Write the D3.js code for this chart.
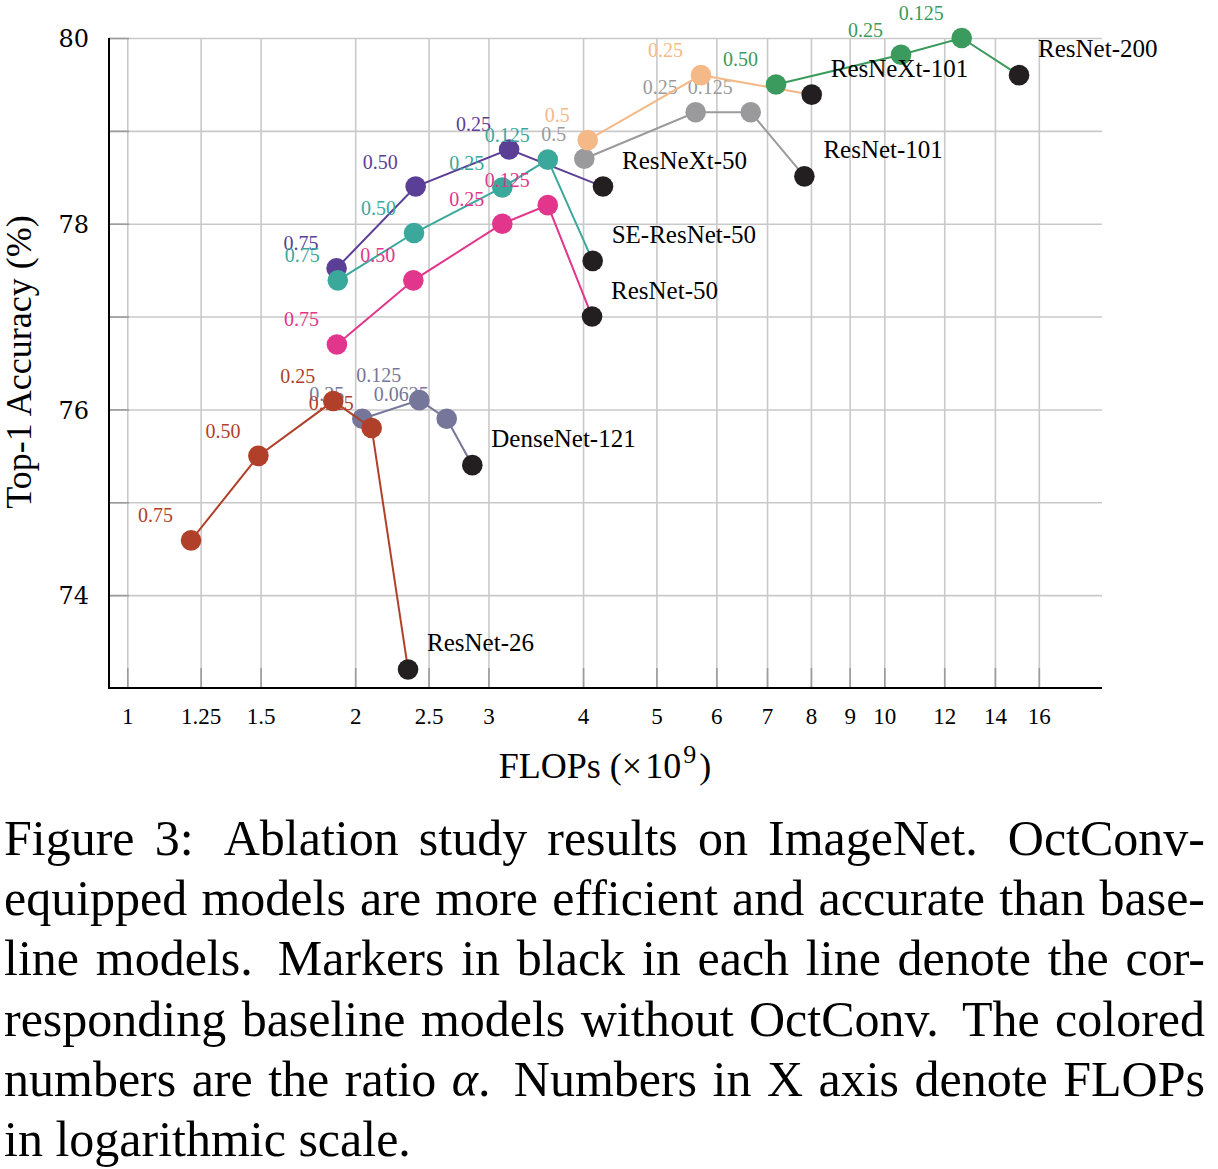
<!DOCTYPE html>
<html><head><meta charset="utf-8">
<script src="https://cdn.jsdelivr.net/npm/d3@7"></script>
<style>body{margin:0;background:#fff} svg{display:block}</style>
</head><body>
<svg id="c" width="1218" height="1169"></svg>
<script>
// ---------- data ----------
const xTickValues = [1, 1.25, 1.5, 2, 2.5, 3, 4, 5, 6, 7, 8, 9, 10, 12, 14, 16];
const xTickLabels = ["1", "1.25", "1.5", "2", "2.5", "3", "4", "5", "6", "7", "8", "9", "10", "12", "14", "16"];
const yGridValues = [74, 75, 76, 77, 78, 79, 80];
const yTickValues = [74, 76, 78, 80];
const yTickLabels = ["74", "76", "78", "80"];

const modelNames = ["ResNet-101", "ResNeXt-101", "ResNet-200", "ResNeXt-50", "SE-ResNet-50", "ResNet-50", "DenseNet-121", "ResNet-26"];

const flopsResNet101 = [4.015, 5.634, 6.661, 7.842];
const accResNet101   = [78.70, 79.20, 79.20, 78.51];
const alphaResNet101 = ["0.5", "0.25", "0.125", null];

const flopsResNeXt101 = [4.057, 5.726, 8.019];
const accResNeXt101   = [78.90, 79.60, 79.39];
const alphaResNeXt101 = ["0.5", "0.25", null];

const flopsResNet200 = [7.194, 10.521, 12.655, 15.066];
const accResNet200   = [79.50, 79.82, 80.00, 79.60];
const alphaResNet200 = ["0.50", "0.25", "0.125", null];

const flopsResNeXt50 = [1.890, 2.404, 3.194, 4.250];
const accResNeXt50   = [77.52, 78.40, 78.80, 78.40];
const alphaResNeXt50 = ["0.75", "0.50", "0.25", null];

const flopsSEResNet50 = [1.897, 2.392, 3.129, 3.593, 4.119];
const accSEResNet50   = [77.39, 77.90, 78.39, 78.69, 77.60];
const alphaSEResNet50 = ["0.75", "0.50", "0.25", "0.125", null];

const flopsResNet50 = [1.892, 2.387, 3.129, 3.593, 4.111];
const accResNet50   = [76.70, 77.39, 78.00, 78.20, 77.00];
const alphaResNet50 = ["0.75", "0.50", "0.25", "0.125", null];

const flopsDenseNet121 = [2.044, 2.431, 2.642, 2.856];
const accDenseNet121   = [75.90, 76.10, 75.90, 75.40];
const alphaDenseNet121 = ["0.25", "0.125", "0.0625", null];

const flopsResNet26 = [1.214, 1.490, 1.871, 2.103, 2.349];
const accResNet26   = [74.59, 75.50, 76.09, 75.80, 73.20];
const alphaResNet26 = ["0.75", "0.50", "0.25", "0.125", null];

const xAxisTitle = "FLOPs";
const yAxisTitle = "Top-1 Accuracy (%)";
const captionLines = [
  ["Figure", "3:", "Ablation", "study", "results", "on", "ImageNet.", "OctConv-"],
  ["equipped", "models", "are", "more", "efficient", "and", "accurate", "than", "base-"],
  ["line", "models.", "Markers", "in", "black", "in", "each", "line", "denote", "the", "cor-"],
  ["responding", "baseline", "models", "without", "OctConv.", "The", "colored"],
  ["numbers", "are", "the", "ratio", "α.", "Numbers", "in", "X", "axis", "denote", "FLOPs"],
  ["in", "logarithmic", "scale."]
];

// ---------- styles ----------
const seriesColors = ["#9a9a9d", "#f4b987", "#3b9a5d", "#5b3f96", "#3ba89c", "#e1368b", "#76769a", "#b0402a"];
const baselineColor = "#231f20";
const SERIF = "'Liberation Serif','Times New Roman',serif";

const series = [
  [flopsResNet101, accResNet101, alphaResNet101],
  [flopsResNeXt101, accResNeXt101, alphaResNeXt101],
  [flopsResNet200, accResNet200, alphaResNet200],
  [flopsResNeXt50, accResNeXt50, alphaResNeXt50],
  [flopsSEResNet50, accSEResNet50, alphaSEResNet50],
  [flopsResNet50, accResNet50, alphaResNet50],
  [flopsDenseNet121, accDenseNet121, alphaDenseNet121],
  [flopsResNet26, accResNet26, alphaResNet26]
].map((s, i) => ({
  name: modelNames[i], color: seriesColors[i],
  pts: s[0].map((f, j) => ({ f, a: s[1][j], alpha: s[2][j], base: j === s[0].length - 1 }))
}));

// ---------- layout ----------
const L = 109, R = 1102, T = 38, B = 688;
const x = d3.scaleLog().domain([Math.pow(10, (L - 127.3) / 757), Math.pow(10, (R - 127.3) / 757)]).range([L, R]);
const y = d3.scaleLinear().domain([73, 80]).range([B, T]);

const svg = d3.select("#c");

// grid
const gx = svg.append("g").attr("transform", `translate(0,${B})`)
  .call(d3.axisBottom(x).tickValues(xTickValues).tickSize(-(B - T)).tickFormat(""));
gx.select(".domain").remove();
gx.selectAll("line").attr("stroke", "#c9c9c9").attr("stroke-width", 1.6);

const gy = svg.append("g").attr("transform", `translate(${L},0)`)
  .call(d3.axisLeft(y).tickValues(yGridValues).tickSize(-(R - L)).tickFormat(""));
gy.select(".domain").remove();
gy.selectAll("line").attr("stroke", "#c9c9c9").attr("stroke-width", 1.6);

// inward ticks
const tx = svg.append("g").attr("transform", `translate(0,${B})`)
  .call(d3.axisBottom(x).tickValues(xTickValues).tickSize(-20).tickFormat(""));
tx.select(".domain").remove();
tx.selectAll("line").attr("stroke", "#9c9c9c").attr("stroke-width", 1.6);
const ty = svg.append("g").attr("transform", `translate(${L},0)`)
  .call(d3.axisLeft(y).tickValues(yGridValues).tickSize(-20).tickFormat(""));
ty.select(".domain").remove();
ty.selectAll("line").attr("stroke", "#9c9c9c").attr("stroke-width", 1.6);

// tick labels
const lx = svg.append("g").attr("transform", `translate(0,${B})`)
  .call(d3.axisBottom(x).tickValues(xTickValues).tickSize(0).tickFormat((d, i) => xTickLabels[i]));
lx.select(".domain").remove();
lx.selectAll("text").attr("y", 36).attr("dy", null)
  .attr("font-family", SERIF).attr("font-size", 23).attr("fill", "#000");

const ly = svg.append("g").attr("transform", `translate(${L},0)`)
  .call(d3.axisLeft(y).tickValues(yTickValues).tickSize(0).tickFormat((d, i) => yTickLabels[i]));
ly.select(".domain").remove();
ly.selectAll("text").attr("x", -20).attr("dy", "0.36em")
  .attr("font-family", "'DejaVu Serif',serif").attr("font-size", 24).attr("fill", "#000");

// axis lines
svg.append("line").attr("x1", L).attr("x2", L).attr("y1", T).attr("y2", B + 1).attr("stroke", "#000").attr("stroke-width", 2);
svg.append("line").attr("x1", L - 1).attr("x2", R).attr("y1", B).attr("y2", B).attr("stroke", "#000").attr("stroke-width", 2);

// axis titles
const xt = svg.append("text").attr("x", 605).attr("y", 778).attr("text-anchor", "middle")
  .attr("font-family", SERIF).attr("font-size", 36).attr("fill", "#000");
xt.append("tspan").text(xAxisTitle + " (×\u200A10");
xt.append("tspan").attr("font-size", 26).attr("dx", 2).attr("dy", -15).text("9");
xt.append("tspan").attr("dx", 3).attr("dy", 15).text(")");

svg.append("text").attr("transform", "translate(31,362) rotate(-90)").attr("text-anchor", "middle")
  .attr("font-family", SERIF).attr("font-size", 36).attr("fill", "#000").text(yAxisTitle);

// series
const line = d3.line().x(d => x(d.f)).y(d => y(d.a));
const plot = svg.append("g");
series.forEach(s => {
  const g = plot.append("g");
  g.append("path").datum(s.pts).attr("d", line).attr("fill", "none").attr("stroke", s.color).attr("stroke-width", 2);
  g.selectAll("text.alpha").data(s.pts.filter(p => p.alpha)).join("text").attr("class", "alpha")
    .attr("x", d => x(d.f) - 18).attr("y", d => y(d.a) - 18).attr("text-anchor", "end")
    .attr("font-family", SERIF).attr("font-size", 20).attr("fill", s.color).text(d => d.alpha);
  g.selectAll("circle").data(s.pts).join("circle")
    .attr("cx", d => x(d.f)).attr("cy", d => y(d.a)).attr("r", 10.3)
    .attr("fill", d => d.base ? baselineColor : s.color);
});
// model name labels
series.forEach(s => {
  const b = s.pts[s.pts.length - 1];
  svg.append("text").attr("x", x(b.f) + 19).attr("y", y(b.a) - 18)
    .attr("font-family", SERIF).attr("font-size", 25).attr("fill", "#000").text(s.name);
});

// caption (justified)
const capL = 4, capR = 1205, capTop = 855, capStep = 60.2;
captionLines.forEach((words, li) => {
  const yy = capTop + li * capStep;
  const g = svg.append("g");
  const nodes = words.map(w => {
    const t = g.append("text").attr("y", yy).attr("font-family", SERIF).attr("font-size", 50).attr("fill", "#000");
    if (w.includes("α")) {
      t.append("tspan").attr("font-style", "italic").text("α");
      t.append("tspan").text(w.replace("α", ""));
    } else t.text(w);
    return t;
  });
  const widths = nodes.map(n => n.node().getComputedTextLength());
  const last = li === captionLines.length - 1;
  const weights = words.slice(0, -1).map(w => /[.:]$/.test(w) ? 1.5 : 1);
  const natural = 12.5;
  let unit = natural;
  if (!last) {
    const total = widths.reduce((a, b) => a + b, 0);
    unit = (capR - capL - total) / weights.reduce((a, b) => a + b, 0);
  }
  let cx = capL;
  nodes.forEach((n, i) => {
    n.attr("x", cx);
    cx += widths[i] + (i < weights.length ? weights[i] * unit : 0);
  });
});
</script>
</body></html>
